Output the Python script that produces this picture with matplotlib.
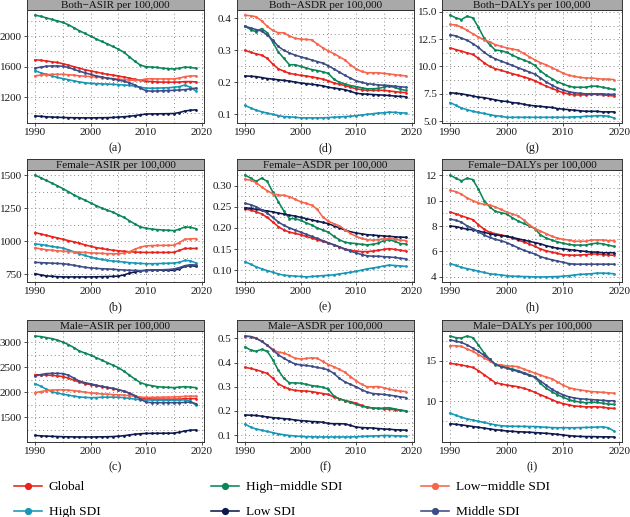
import numpy as np
import matplotlib
matplotlib.use("Agg")
import matplotlib.pyplot as plt

plt.rcParams['font.family'] = ['Liberation Serif', 'DejaVu Serif']

years = list(range(1990, 2020))
regions = ["Global", "High SDI", "High-middle SDI", "Low SDI", "Low-middle SDI", "Middle SDI"]
legend_names = ["Global", "High SDI", "High\u2212middle SDI", "Low SDI", "Low\u2212middle SDI", "Middle SDI"]
colors = ["#e8231d", "#1597b5", "#0b8657", "#0e1a4d", "#f6654c", "#3c4c86"]

# ---- data (per 100,000), order of regions as above ----
both_asir = {
    "Global": [1690,1685,1675,1665,1655,1640,1620,1600,1580,1560,1545,1530,1515,1500,1490,1478,1465,1450,1435,1420,1410,1405,1400,1398,1397,1397,1398,1405,1405,1400],
    "High SDI": [1550,1520,1500,1480,1460,1445,1430,1415,1400,1390,1380,1378,1375,1372,1370,1365,1360,1355,1345,1330,1320,1318,1320,1322,1325,1330,1340,1360,1330,1280],
    "High-middle SDI": [2275,2260,2240,2220,2200,2180,2150,2110,2070,2035,2000,1965,1930,1900,1865,1830,1790,1730,1670,1620,1600,1595,1590,1580,1575,1570,1580,1595,1590,1580],
    "Low SDI": [955,950,945,940,938,935,933,932,931,930,930,931,932,933,935,940,945,950,960,970,980,982,983,984,985,987,1000,1020,1030,1035],
    "Low-middle SDI": [1480,1490,1495,1500,1500,1500,1495,1490,1480,1475,1470,1465,1458,1450,1445,1438,1430,1425,1420,1425,1440,1442,1440,1440,1440,1440,1450,1470,1478,1480],
    "Middle SDI": [1580,1595,1605,1610,1610,1605,1590,1565,1540,1520,1500,1480,1465,1450,1440,1425,1410,1390,1360,1320,1285,1280,1282,1285,1288,1290,1295,1300,1310,1320],
}
female_asir = {
    "Global": [1065,1055,1045,1035,1025,1015,1005,995,985,972,962,952,945,938,932,928,924,920,918,916,915,915,915,915,915,916,930,945,945,945],
    "High SDI": [980,975,968,960,955,948,935,920,905,892,880,870,862,855,850,847,842,838,835,832,830,830,831,832,833,835,840,855,852,835],
    "High-middle SDI": [1500,1480,1460,1440,1420,1398,1375,1350,1330,1310,1290,1270,1250,1235,1220,1200,1180,1155,1130,1108,1098,1092,1088,1085,1083,1080,1090,1108,1105,1095],
    "Low SDI": [755,745,738,735,732,730,730,730,730,730,730,731,732,733,734,736,745,758,768,775,780,782,782,781,780,780,790,810,815,810],
    "Low-middle SDI": [950,942,936,932,928,925,922,920,917,915,912,910,908,906,905,905,910,920,940,955,965,967,968,968,969,970,990,1015,1018,1020],
    "Middle SDI": [840,838,836,834,832,830,825,818,810,803,798,795,792,790,788,785,782,780,779,778,778,780,782,784,786,790,800,815,822,820],
}
male_asir = {
    "Global": [2350,2345,2340,2335,2325,2310,2280,2240,2200,2170,2150,2130,2110,2090,2070,2050,2020,1980,1930,1890,1870,1865,1862,1860,1860,1860,1862,1868,1870,1870],
    "High SDI": [2170,2120,2060,2010,1980,1960,1940,1920,1905,1895,1890,1892,1898,1900,1900,1898,1890,1875,1860,1850,1845,1842,1840,1840,1840,1840,1842,1845,1820,1740],
    "High-middle SDI": [3120,3110,3090,3070,3040,3000,2950,2890,2820,2780,2740,2690,2640,2590,2540,2490,2420,2340,2260,2190,2150,2130,2110,2100,2095,2090,2100,2110,2100,2090],
    "Low SDI": [1135,1128,1122,1118,1114,1110,1108,1106,1105,1105,1105,1106,1108,1110,1113,1120,1130,1145,1160,1170,1175,1177,1178,1179,1180,1182,1200,1225,1240,1245],
    "Low-middle SDI": [1990,2010,2030,2040,2045,2045,2040,2030,2015,2000,1985,1975,1965,1958,1952,1948,1940,1930,1915,1900,1895,1895,1897,1900,1902,1905,1910,1915,1920,1920],
    "Middle SDI": [2320,2350,2370,2375,2375,2370,2340,2280,2220,2190,2165,2140,2115,2095,2075,2050,2020,1980,1930,1860,1800,1790,1790,1790,1790,1790,1790,1795,1800,1770],
}
both_asdr = {
    "Global": [0.300,0.294,0.289,0.285,0.275,0.257,0.242,0.235,0.228,0.225,0.222,0.220,0.217,0.214,0.210,0.205,0.198,0.194,0.190,0.185,0.180,0.177,0.175,0.175,0.175,0.175,0.173,0.171,0.169,0.168],
    "High SDI": [0.128,0.120,0.113,0.108,0.104,0.100,0.096,0.093,0.092,0.091,0.089,0.089,0.089,0.089,0.089,0.090,0.091,0.092,0.093,0.094,0.096,0.098,0.100,0.102,0.104,0.105,0.107,0.106,0.105,0.104],
    "High-middle SDI": [0.375,0.365,0.358,0.368,0.355,0.325,0.295,0.275,0.255,0.255,0.250,0.245,0.240,0.237,0.233,0.228,0.210,0.200,0.195,0.190,0.187,0.183,0.180,0.180,0.181,0.185,0.188,0.184,0.178,0.175],
    "Low SDI": [0.220,0.219,0.218,0.215,0.212,0.210,0.208,0.206,0.204,0.201,0.198,0.196,0.194,0.192,0.189,0.185,0.182,0.180,0.177,0.172,0.166,0.164,0.163,0.162,0.161,0.160,0.159,0.157,0.156,0.155],
    "Low-middle SDI": [0.410,0.408,0.405,0.392,0.375,0.362,0.355,0.355,0.345,0.338,0.335,0.334,0.333,0.320,0.308,0.298,0.290,0.280,0.270,0.255,0.242,0.234,0.230,0.230,0.230,0.228,0.226,0.224,0.222,0.220],
    "Middle SDI": [0.375,0.370,0.365,0.360,0.348,0.332,0.312,0.300,0.292,0.285,0.280,0.275,0.270,0.265,0.260,0.252,0.242,0.232,0.222,0.213,0.205,0.200,0.196,0.194,0.192,0.191,0.190,0.188,0.186,0.185],
}
female_asdr = {
    "Global": [0.245,0.242,0.238,0.233,0.225,0.214,0.203,0.195,0.190,0.187,0.184,0.180,0.176,0.172,0.168,0.164,0.160,0.155,0.150,0.147,0.145,0.144,0.144,0.145,0.147,0.149,0.151,0.149,0.147,0.145],
    "High SDI": [0.120,0.114,0.108,0.103,0.099,0.095,0.091,0.088,0.087,0.086,0.085,0.084,0.085,0.086,0.087,0.088,0.089,0.091,0.093,0.095,0.097,0.100,0.103,0.105,0.107,0.110,0.112,0.111,0.110,0.109],
    "High-middle SDI": [0.325,0.318,0.310,0.318,0.310,0.285,0.262,0.240,0.222,0.222,0.218,0.212,0.207,0.200,0.195,0.190,0.180,0.172,0.166,0.164,0.163,0.161,0.160,0.161,0.164,0.170,0.172,0.168,0.163,0.162],
    "Low SDI": [0.248,0.246,0.244,0.242,0.240,0.238,0.235,0.233,0.230,0.228,0.225,0.222,0.219,0.216,0.213,0.210,0.205,0.200,0.195,0.191,0.188,0.186,0.184,0.183,0.182,0.181,0.180,0.179,0.178,0.178],
    "Low-middle SDI": [0.315,0.313,0.307,0.297,0.288,0.281,0.278,0.277,0.274,0.268,0.262,0.258,0.254,0.244,0.226,0.216,0.210,0.205,0.196,0.187,0.180,0.175,0.172,0.171,0.172,0.174,0.175,0.173,0.171,0.170],
    "Middle SDI": [0.258,0.255,0.250,0.243,0.235,0.225,0.214,0.206,0.200,0.195,0.190,0.185,0.180,0.175,0.170,0.165,0.160,0.155,0.150,0.145,0.141,0.137,0.134,0.133,0.133,0.132,0.131,0.130,0.128,0.127],
}
male_asdr = {
    "Global": [0.380,0.376,0.370,0.363,0.355,0.335,0.312,0.300,0.290,0.285,0.283,0.282,0.280,0.276,0.272,0.268,0.258,0.250,0.243,0.238,0.232,0.223,0.215,0.212,0.210,0.208,0.207,0.205,0.202,0.200],
    "High SDI": [0.145,0.133,0.125,0.120,0.115,0.110,0.105,0.101,0.098,0.096,0.094,0.093,0.093,0.092,0.092,0.092,0.092,0.092,0.092,0.092,0.093,0.094,0.095,0.096,0.097,0.098,0.098,0.097,0.096,0.095],
    "High-middle SDI": [0.465,0.452,0.447,0.455,0.447,0.412,0.368,0.335,0.316,0.316,0.315,0.310,0.305,0.302,0.298,0.290,0.262,0.250,0.243,0.235,0.227,0.220,0.215,0.212,0.210,0.212,0.213,0.208,0.203,0.200],
    "Low SDI": [0.183,0.182,0.181,0.178,0.175,0.172,0.170,0.168,0.166,0.162,0.160,0.158,0.156,0.155,0.153,0.148,0.147,0.147,0.146,0.140,0.133,0.131,0.130,0.129,0.127,0.125,0.124,0.122,0.121,0.120],
    "Low-middle SDI": [0.508,0.508,0.502,0.488,0.472,0.455,0.442,0.440,0.430,0.418,0.415,0.417,0.420,0.418,0.405,0.392,0.383,0.372,0.360,0.342,0.325,0.310,0.300,0.300,0.301,0.296,0.290,0.285,0.282,0.280],
    "Middle SDI": [0.510,0.508,0.500,0.488,0.472,0.452,0.432,0.418,0.405,0.395,0.390,0.388,0.385,0.380,0.376,0.370,0.355,0.335,0.320,0.310,0.300,0.288,0.278,0.272,0.270,0.268,0.265,0.262,0.258,0.255],
}
both_dalys = {
    "Global": [11.7,11.55,11.4,11.25,11.1,10.75,10.35,10.0,9.8,9.65,9.5,9.35,9.2,9.05,8.9,8.7,8.45,8.2,8.0,7.8,7.6,7.5,7.4,7.4,7.4,7.45,7.45,7.4,7.35,7.3],
    "High SDI": [6.7,6.45,6.2,6.05,5.9,5.8,5.7,5.6,5.5,5.45,5.35,5.35,5.35,5.35,5.35,5.35,5.35,5.35,5.35,5.35,5.35,5.35,5.4,5.4,5.45,5.45,5.5,5.5,5.45,5.3],
    "High-middle SDI": [14.7,14.45,14.3,14.6,14.45,13.6,12.6,12.0,11.5,11.45,11.3,11.05,10.8,10.6,10.4,10.1,9.6,9.2,8.9,8.6,8.4,8.2,8.1,8.1,8.1,8.2,8.2,8.1,8.0,7.9],
    "Low SDI": [7.6,7.55,7.5,7.4,7.3,7.2,7.15,7.05,6.95,6.85,6.8,6.7,6.65,6.55,6.45,6.4,6.35,6.3,6.25,6.15,6.1,6.05,6.0,5.95,5.9,5.9,5.9,5.85,5.85,5.85],
    "Low-middle SDI": [13.85,13.8,13.6,13.3,13.0,12.7,12.45,12.25,12.0,11.85,11.7,11.6,11.5,11.2,10.9,10.6,10.35,10.15,9.9,9.65,9.4,9.2,9.1,9.0,8.95,8.95,8.9,8.85,8.85,8.8],
    "Middle SDI": [12.9,12.8,12.6,12.4,12.1,11.75,11.3,10.95,10.7,10.5,10.3,10.1,9.9,9.7,9.5,9.3,8.95,8.6,8.3,8.05,7.85,7.7,7.6,7.55,7.5,7.5,7.5,7.5,7.45,7.45],
}
female_dalys = {
    "Global": [9.1,8.95,8.8,8.65,8.5,8.1,7.75,7.5,7.4,7.3,7.2,7.05,6.9,6.75,6.6,6.4,6.2,6.05,5.95,5.85,5.75,5.72,5.7,5.72,5.75,5.8,5.8,5.75,5.72,5.7],
    "High SDI": [5.05,4.9,4.75,4.65,4.55,4.45,4.35,4.25,4.2,4.15,4.1,4.05,4.05,4.03,4.02,4.0,4.0,4.0,4.02,4.03,4.05,4.1,4.15,4.2,4.22,4.25,4.3,4.3,4.28,4.25],
    "High-middle SDI": [12.0,11.75,11.55,11.75,11.65,10.9,10.0,9.5,9.15,9.05,8.95,8.65,8.4,8.2,8.0,7.8,7.3,7.05,6.9,6.75,6.65,6.55,6.5,6.5,6.5,6.6,6.65,6.6,6.5,6.4],
    "Low SDI": [8.0,7.95,7.85,7.75,7.7,7.6,7.5,7.4,7.3,7.25,7.2,7.1,7.0,6.9,6.8,6.7,6.6,6.45,6.35,6.25,6.2,6.15,6.1,6.05,6.0,5.95,5.95,5.9,5.9,5.9],
    "Low-middle SDI": [10.8,10.7,10.5,10.2,10.0,9.8,9.7,9.65,9.5,9.3,9.1,8.95,8.8,8.5,8.1,7.8,7.6,7.4,7.2,7.05,6.95,6.9,6.8,6.8,6.8,6.9,6.9,6.9,6.85,6.85],
    "Middle SDI": [8.55,8.45,8.3,8.0,7.8,7.55,7.3,7.1,6.95,6.85,6.7,6.5,6.3,6.1,5.95,5.8,5.6,5.45,5.35,5.25,5.15,5.05,5.0,5.0,5.0,5.0,5.0,5.0,5.0,5.0],
}
male_dalys = {
    "Global": [14.7,14.6,14.5,14.35,14.2,13.8,13.3,12.8,12.3,12.15,12.0,11.9,11.8,11.6,11.4,11.1,10.8,10.5,10.2,9.9,9.7,9.55,9.4,9.35,9.3,9.3,9.3,9.25,9.15,9.1],
    "High SDI": [8.5,8.25,8.0,7.8,7.65,7.5,7.35,7.2,7.05,6.95,6.9,6.88,6.87,6.86,6.85,6.85,6.8,6.75,6.72,6.7,6.7,6.7,6.7,6.72,6.73,6.75,6.78,6.8,6.7,6.3],
    "High-middle SDI": [18.1,17.9,17.85,18.1,17.9,17.0,16.0,15.2,14.5,14.35,14.2,14.0,13.8,13.55,13.3,13.0,12.2,11.6,11.2,10.8,10.5,10.2,10.0,9.9,9.8,9.85,9.85,9.75,9.65,9.6],
    "Low SDI": [7.2,7.12,7.05,6.95,6.85,6.75,6.65,6.55,6.45,6.38,6.3,6.25,6.2,6.17,6.14,6.1,6.05,6.0,5.95,5.88,5.8,5.72,5.65,5.62,5.6,5.6,5.58,5.57,5.56,5.55],
    "Low-middle SDI": [16.9,16.9,16.8,16.5,16.2,15.8,15.4,15.0,14.6,14.5,14.4,14.35,14.3,14.0,13.75,13.5,13.25,13.0,12.8,12.4,12.0,11.7,11.5,11.4,11.3,11.2,11.15,11.1,11.05,11.0],
    "Middle SDI": [17.6,17.45,17.3,17.0,16.6,16.2,15.7,15.2,14.6,14.3,14.1,13.9,13.7,13.45,13.2,13.0,12.5,12.0,11.5,11.1,10.8,10.55,10.4,10.3,10.25,10.2,10.15,10.1,10.05,10.05],
}

titles = [["Both\u2212ASIR per 100,000", "Both\u2212ASDR per 100,000", "Both\u2212DALYs per 100,000"],
          ["Female\u2212ASIR per 100,000", "Female\u2212ASDR per 100,000", "Female\u2212DALYs per 100,000"],
          ["Male\u2212ASIR per 100,000", "Male\u2212ASDR per 100,000", "Male\u2212DALYs per 100,000"]]
panel_data = [[both_asir, both_asdr, both_dalys],
              [female_asir, female_asdr, female_dalys],
              [male_asir, male_asdr, male_dalys]]
letters = [["(a)", "(d)", "(g)"], ["(b)", "(e)", "(h)"], ["(c)", "(f)", "(i)"]]
yticks = [[[1200, 1600, 2000], [0.1, 0.2, 0.3, 0.4], [5.0, 7.5, 10.0, 12.5, 15.0]],
          [[750, 1000, 1250, 1500], [0.10, 0.15, 0.20, 0.25, 0.30], [4, 6, 8, 10, 12]],
          [[1500, 2000, 2500, 3000], [0.1, 0.2, 0.3, 0.4, 0.5], [10, 15]]]
yfmt = [["{:.0f}", "{:.1f}", "{:.1f}"],
        ["{:.0f}", "{:.2f}", "{:.0f}"],
        ["{:.0f}", "{:.1f}", "{:.0f}"]]
xticks = [1990, 2000, 2010, 2020]

# layout in pixels
W, H = 630, 517
cols = [(27, 204), (237, 414), (442, 622)]
rows = [(10, 123), (170, 282), (331, 442)]
strip_h = 11
grid_kw = dict(color="#8a8a8a", linestyle=(0, (1, 3)), linewidth=0.7)

fig = plt.figure(figsize=(6.3, 5.17), dpi=100)


def px_axes(x0, y0, x1, y1):
    return fig.add_axes([x0 / W, 1 - y1 / H, (x1 - x0) / W, (y1 - y0) / H])


def minors(ticks):
    step = ticks[1] - ticks[0]
    out = [ticks[0] - step / 2]
    out += [t + step / 2 for t in ticks]
    return out


handles = []
for r in range(3):
    for c in range(3):
        x0, x1 = cols[c]
        y0, y1 = rows[r]
        ax = px_axes(x0, y0, x1, y1)
        data = panel_data[r][c]
        lines = []
        for name, col in zip(regions, colors):
            ln, = ax.plot(years, data[name], color=col, lw=1.15, marker='o', ms=2.0,
                          mew=0, zorder=3)
            lines.append(ln)
        if not handles:
            handles = lines
        ax.margins(x=0.05, y=0.05)
        xl = ax.get_xlim()
        yl = ax.get_ylim()
        yt = yticks[r][c]
        # dotted grid, major and minor
        for v in xticks + [1995, 2005, 2015]:
            ax.axvline(v, zorder=1, **grid_kw)
        for v in yt + minors(yt):
            if yl[0] < v < yl[1]:
                ax.axhline(v, zorder=1, **grid_kw)
        ax.set_xlim(xl)
        ax.set_ylim(yl)
        ax.set_xticks(xticks)
        ax.set_yticks(yt)
        ax.set_yticklabels([yfmt[r][c].format(v) for v in yt])
        ax.tick_params(length=2.5, width=0.6, color="#333333", labelsize=8.0,
                       pad=1.2, labelcolor="#1a1a1a")
        for s in ax.spines.values():
            s.set_color("#333333")
            s.set_linewidth(0.7)

        # strip title
        st = px_axes(x0, y0 - strip_h, x1, y0)
        st.set_facecolor("#a9a9a9")
        st.set_xticks([])
        st.set_yticks([])
        for s in st.spines.values():
            s.set_color("#333333")
            s.set_linewidth(0.7)
        st.text(0.5, 0.45, titles[r][c], ha='center', va='center', fontsize=8,
                transform=st.transAxes, color="#111111")

        fig.text((x0 + x1) / 2 / W, 1 - (y1 + 25) / H, letters[r][c],
                 ha='center', va='center', fontsize=8.7, color="#1a1a1a")

# legend, three columns of two rows
leg_x = [14, 211, 421]
for k in range(3):
    hs = [handles[2 * k], handles[2 * k + 1]]
    labs = [legend_names[2 * k], legend_names[2 * k + 1]]
    leg = fig.legend(hs, labs, loc='upper left', bbox_to_anchor=(leg_x[k] / W, 1 - 481 / H),
                     frameon=False, fontsize=9.6, handlelength=2.1, handletextpad=0.5,
                     labelspacing=0.95, markerscale=2.6, borderaxespad=0, borderpad=0)

fig.savefig("out.png", dpi=100)
